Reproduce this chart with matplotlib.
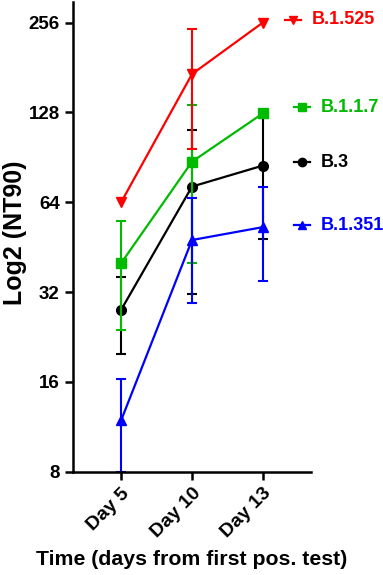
import matplotlib.pyplot as plt
import numpy as np

plt.rcParams["font.family"] = ["Liberation Sans", "DejaVu Sans"]
plt.rcParams["font.weight"] = "bold"

days = ["Day 5", "Day 10", "Day 13"]
y_ticks = [8, 16, 32, 64, 128, 256]

# geometric means and error bar ends (nan = no bar drawn)
variants = ["B.3", "B.1.1.7", "B.1.351", "B.1.525"]
colors = ["#000000", "#00BB00", "#0000FF", "#FF0000"]
markers = ["o", "s", "^", "v"]
marker_sizes = [7, 7.5, 7, 7]

b3_mean = [27.9, 72.2, 84.9]
b3_low = [19.9, 31.5, 48.1]
b3_high = [35.9, 111.8, 123.0]

b117_mean = [40.0, 87.5, 127.0]
b117_low = [23.9, 40.0, np.nan]
b117_high = [55.5, 135.6, np.nan]

b1351_mean = [11.9, 47.8, 52.8]
b1351_low = [8.0, 29.3, 34.9]
b1351_high = [16.4, 66.0, 71.7]

b1525_mean = [64.0, 172.0, 256.0]
b1525_low = [np.nan, 96.6, np.nan]
b1525_high = [np.nan, 243.0, np.nan]

means = [b3_mean, b117_mean, b1351_mean, b1525_mean]
lows = [b3_low, b117_low, b1351_low, b1525_low]
highs = [b3_high, b117_high, b1351_high, b1525_high]

# label anchor heights (axes fraction) for the right-hand labels
label_y = [0.659, 0.776, 0.525, 0.962]

fig = plt.figure(figsize=(3.83, 5.75), dpi=100)
ax = fig.add_axes([0.1906, 0.1797, 0.6214, 0.8168])

x = np.arange(1, len(days) + 1)
for name, col, mk, ms, m, lo, hi, ly in zip(variants, colors, markers, marker_sizes,
                                            means, lows, highs, label_y):
    m = np.array(m)
    lo = np.array(lo)
    hi = np.array(hi)
    ok = ~np.isnan(lo)
    ax.errorbar(x[ok], m[ok], yerr=[m[ok] - lo[ok], hi[ok] - m[ok]], fmt="none",
                ecolor=col, elinewidth=1.5, capsize=3.5, capthick=1.5, clip_on=False)
    ax.plot(x, m, color=col, marker=mk, markersize=ms, linewidth=1.6, clip_on=False)
    # label to the right of the plot
    xm = 0.962 if name != "B.1.525" else 0.924
    ax.plot([xm - 0.034, xm + 0.034], [ly, ly], color=col, linewidth=1.6,
            transform=ax.transAxes, clip_on=False)
    ax.plot([xm], [ly], color=col, marker=mk, markersize=6,
            transform=ax.transAxes, clip_on=False)
    ax.text(xm + 0.08, ly, name, color=col, fontsize=13, fontweight="bold",
            va="center", ha="left", transform=ax.transAxes)

ax.set_yscale("log", base=2)
ax.set_ylim(8, 300)
ax.set_xlim(0.32, 3.68)
ax.set_yticks(y_ticks)
ax.set_yticklabels([str(v) for v in y_ticks])
ax.yaxis.set_minor_locator(plt.NullLocator())
ax.set_xticks(x)
ax.set_xticklabels(days, rotation=45, ha="right", rotation_mode="anchor")

for s in ["top", "right"]:
    ax.spines[s].set_visible(False)
for s in ["left", "bottom"]:
    ax.spines[s].set_linewidth(1.8)
ax.tick_params(axis="both", width=1.8, length=6)
ax.tick_params(axis="y", labelsize=13.5)
ax.tick_params(axis="x", labelsize=14)
for lab in ax.get_xticklabels() + ax.get_yticklabels():
    lab.set_fontweight("bold")

ax.set_ylabel("Log2 (NT90)", fontsize=18, fontweight="bold", va="center")
ax.yaxis.set_label_coords(-0.245, 0.508)
ax.set_xlabel("Time (days from first pos. test)", fontsize=15.3, fontweight="bold", labelpad=6)

fig.savefig("out.png", dpi=100)
